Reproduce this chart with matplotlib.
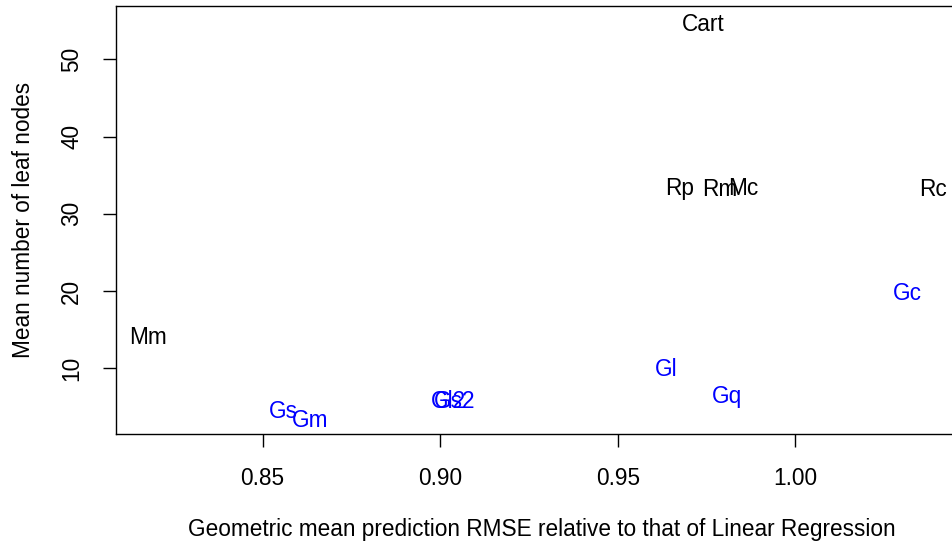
import matplotlib
matplotlib.use("Agg")
import matplotlib.pyplot as plt

# method labels, geometric-mean relative RMSE and mean number of leaf nodes
black_labels = ["Cart", "Rp", "Rm", "Mc", "Rc", "Mm"]
black_rmse = [0.9740, 0.9675, 0.9788, 0.9853, 1.0388, 0.8177]
black_leaves = [54.8, 33.6, 33.5, 33.6, 33.5, 14.3]

blue_labels = ["Gc", "Gl", "Gq", "Gs", "Gm", "Gl2", "Gs2"]
blue_rmse = [1.0314, 0.9636, 0.9807, 0.8557, 0.8634, 0.9022, 0.9041]
blue_leaves = [20.0, 10.2, 6.7, 4.7, 3.6, 6.0, 6.0]

xticks = [0.85, 0.90, 0.95, 1.00]
yticks = [10, 20, 30, 40, 50]

plt.rcParams["font.family"] = ["Liberation Sans", "DejaVu Sans"]
fs = 16.3

fig = plt.figure(figsize=(9.52, 5.43), dpi=100)
W, H = 952, 543
left, right, bottom, top = 116, 967, 109, 537
ax = fig.add_axes([left / W, bottom / H, (right - left) / W, (top - bottom) / H])

for lab, x, y in zip(black_labels, black_rmse, black_leaves):
    ax.text(x, y, lab, color="black", fontsize=fs, ha="center", va="center_baseline")
for lab, x, y in zip(blue_labels, blue_rmse, blue_leaves):
    ax.text(x, y, lab, color="blue", fontsize=fs, ha="center", va="center_baseline")

ax.set_xlim(0.8087, 1.0483)
ax.set_ylim(1.5, 56.9)
ax.set_xticks(xticks)
ax.set_xticklabels([f"{v:.2f}" for v in xticks])
ax.set_yticks(yticks)
ax.set_yticklabels([str(v) for v in yticks], rotation=90, va="center")
ax.tick_params(axis="both", length=9.5, width=1.0, labelsize=fs, pad=14, direction="out")
for sp in ax.spines.values():
    sp.set_linewidth(1.0)

ax.set_xlabel("Geometric mean prediction RMSE relative to that of Linear Regression", fontsize=fs)
ax.set_ylabel("Mean number of leaf nodes", fontsize=fs)
ax.xaxis.set_label_coords(0.5, -0.222)
ax.yaxis.set_label_coords(-0.109, 0.5)
ax.xaxis.label.set_va("center")
ax.yaxis.label.set_va("center")

fig.savefig("out.png", dpi=100)
